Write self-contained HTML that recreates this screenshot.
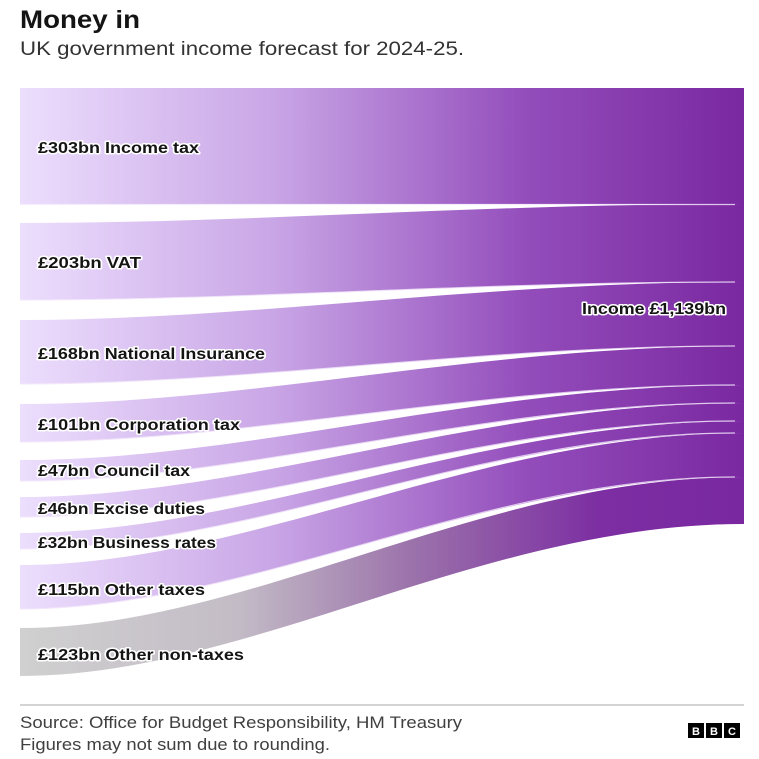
<!DOCTYPE html>
<html><head><meta charset="utf-8"><style>
body{margin:0;background:#fff;width:759px;height:759px;overflow:hidden;font-family:"Liberation Sans",sans-serif}
svg{display:block}
.l{font-weight:bold;font-size:16px;fill:#141414;paint-order:stroke;stroke:#fff;stroke-width:3px;stroke-linejoin:round}
</style></head><body>
<svg width="759" height="759" viewBox="0 0 759 759">
<defs>
<linearGradient id="g" gradientUnits="userSpaceOnUse" x1="20" y1="0" x2="744" y2="0">
<stop offset="0" stop-color="#ecdefd"/><stop offset="0.35" stop-color="#c9a6e6"/><stop offset="0.7" stop-color="#934dbb"/><stop offset="1" stop-color="#7a28a0"/></linearGradient>
<linearGradient id="gg" gradientUnits="userSpaceOnUse" x1="20" y1="0" x2="744" y2="0">
<stop offset="0" stop-color="#d0d0d0"/><stop offset="0.3" stop-color="#c3bcc6"/><stop offset="0.55" stop-color="#9a70aa"/><stop offset="0.8" stop-color="#7c2ea2"/><stop offset="1" stop-color="#7a28a0"/></linearGradient>
</defs>
<text x="20" y="28" font-size="25" font-weight="bold" fill="#141414" textLength="120" lengthAdjust="spacingAndGlyphs">Money in</text>
<text x="20" y="55" font-size="19" fill="#333" textLength="444" lengthAdjust="spacingAndGlyphs">UK government income forecast for 2024-25.</text>
<rect x="20" y="88" width="724" height="116" fill="url(#g)"/>
<path d="M20,223 C250,223 480,204 744,204 L744,282 C480,282 250,300 20,300Z" fill="url(#g)"/>
<path d="M20,320 C250,320 480,282 744,282 L744,346 C480,346 250,384 20,384Z" fill="url(#g)"/>
<path d="M20,404 C250,404 480,346 744,346 L744,385 C480,385 250,442 20,442Z" fill="url(#g)"/>
<path d="M20,460 C250,460 480,385 744,385 L744,403 C480,403 250,481 20,481Z" fill="url(#g)"/>
<path d="M20,497 C250,497 480,403 744,403 L744,421 C480,421 250,517 20,517Z" fill="url(#g)"/>
<path d="M20,533 C250,533 480,421 744,421 L744,433 C480,433 250,549 20,549Z" fill="url(#g)"/>
<path d="M20,565 C250,565 480,433 744,433 L744,477 C480,477 250,609 20,609Z" fill="url(#g)"/>
<path d="M20,628 C250,628 480,477 744,477 L744,524 C480,524 250,676 20,676Z" fill="url(#gg)"/>
<g fill="none" stroke="#f3e8fb" stroke-width="1.2" opacity="0.8">
<path d="M20,204.5 L735,204.5"/>
<path d="M20,300 C250,300 480,282 735,282"/>
<path d="M20,384 C250,384 480,346 735,346"/>
<path d="M20,442 C250,442 480,385 735,385"/>
<path d="M20,481 C250,481 480,403 735,403"/>
<path d="M20,517 C250,517 480,421 735,421"/>
<path d="M20,549 C250,549 480,433 735,433"/>
<path d="M20,609 C250,609 480,477 735,477"/>
</g>
<g lengthAdjust="spacingAndGlyphs">
<text class="l" x="38" y="153" textLength="161" lengthAdjust="spacingAndGlyphs">£303bn Income tax</text>
<text class="l" x="38" y="268" textLength="103" lengthAdjust="spacingAndGlyphs">£203bn VAT</text>
<text class="l" x="38" y="359" textLength="227" lengthAdjust="spacingAndGlyphs">£168bn National Insurance</text>
<text class="l" x="38" y="430" textLength="202" lengthAdjust="spacingAndGlyphs">£101bn Corporation tax</text>
<text class="l" x="38" y="476" textLength="152" lengthAdjust="spacingAndGlyphs">£47bn Council tax</text>
<text class="l" x="38" y="514" textLength="167" lengthAdjust="spacingAndGlyphs">£46bn Excise duties</text>
<text class="l" x="38" y="548" textLength="178" lengthAdjust="spacingAndGlyphs">£32bn Business rates</text>
<text class="l" x="38" y="595" textLength="167" lengthAdjust="spacingAndGlyphs">£115bn Other taxes</text>
<text class="l" x="38" y="660" textLength="206" lengthAdjust="spacingAndGlyphs">£123bn Other non-taxes</text>
<text class="l" x="582" y="314" textLength="144" lengthAdjust="spacingAndGlyphs">Income £1,139bn</text>
</g>
<line x1="20" y1="705" x2="744" y2="705" stroke="#aaa" stroke-width="1"/>
<text x="20" y="728" font-size="17" fill="#404040" textLength="442" lengthAdjust="spacingAndGlyphs">Source: Office for Budget Responsibility, HM Treasury</text>
<text x="20" y="750" font-size="17" fill="#404040" textLength="310" lengthAdjust="spacingAndGlyphs">Figures may not sum due to rounding.</text>
<g font-size="11" font-weight="bold" fill="#fff" text-anchor="middle">
<rect x="688" y="723" width="16" height="15" fill="#000"/><text x="696" y="735">B</text>
<rect x="706" y="723" width="16" height="15" fill="#000"/><text x="714" y="735">B</text>
<rect x="724" y="723" width="16" height="15" fill="#000"/><text x="732" y="735">C</text>
</g>
</svg>
</body></html>
